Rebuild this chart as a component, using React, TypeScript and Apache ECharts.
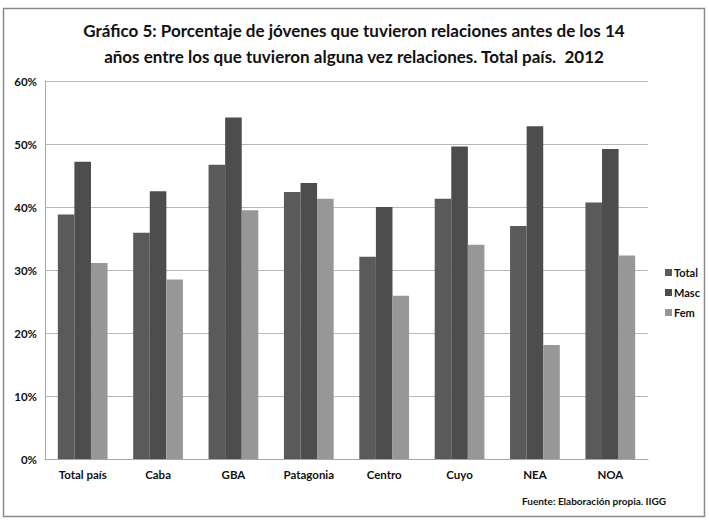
import React, { useEffect, useRef } from 'react'
import * as echarts from 'echarts'

const categories = ['Total país', 'Caba', 'GBA', 'Patagonia', 'Centro', 'Cuyo', 'NEA', 'NOA']
const totalValues = [38.8, 35.9, 46.7, 42.4, 32.1, 41.3, 37.0, 40.7]
const mascValues = [47.2, 42.5, 54.2, 43.8, 40.0, 49.6, 52.8, 49.2]
const femValues = [31.1, 28.5, 39.5, 41.3, 25.9, 34.0, 18.1, 32.3]
const seriesNames = ['Total', 'Masc', 'Fem']
const titleLines = [
  'Gráfico 5: Porcentaje de jóvenes que tuvieron relaciones antes de los 14',
  'años entre los que tuvieron alguna vez relaciones. Total país.  2012',
]
const sourceText = 'Fuente: Elaboración propia. IIGG'

const font = 'Lato, Open Sans, sans-serif'

const App: React.FC = () => {
  const chartRef = useRef<HTMLDivElement>(null)

  useEffect(() => {
    if (!chartRef.current) return
    document.body.style.margin = '0'
    const chart = echarts.init(chartRef.current, undefined, { renderer: 'svg' })

    const colors = ['#5a5a5a', '#4d4d4d', '#979797']
    const values = [totalValues, mascValues, femValues]

    const option = {
      animation: false,
      backgroundColor: '#ffffff',
      textStyle: { fontFamily: font },
      graphic: [
        {
          type: 'rect',
          shape: { x: 3.5, y: 8.5, width: 701, height: 508 },
          style: { fill: 'none', stroke: '#8a8a8a', lineWidth: 1.5 },
          z: -1,
        },
        {
          type: 'text',
          x: 354,
          y: 17,
          style: {
            text: titleLines.join('\n'),
            fontFamily: font,
            fontSize: 17,
            fontWeight: 'bold',
            fill: '#111',
            align: 'center',
            lineHeight: 26,
          },
        },
        {
          type: 'text',
          x: 522,
          y: 496,
          style: {
            text: sourceText,
            fontFamily: font,
            fontSize: 10,
            fontWeight: 'bold',
            fill: '#111',
          },
        },
      ],
      legend: {
        orient: 'vertical',
        left: 660,
        top: 262,
        itemWidth: 7,
        itemHeight: 7,
        itemGap: 9,
        icon: 'rect',
        data: seriesNames,
        textStyle: { fontFamily: font, fontSize: 11, fontWeight: 'bold', color: '#111', padding: [0, 0, 0, -3] },
      },
      grid: { left: 45, right: 61, top: 81, bottom: 68 },
      xAxis: {
        type: 'category',
        data: categories,
        axisLine: { lineStyle: { color: '#a8a8a8' } },
        axisTick: { show: false },
        axisLabel: { color: '#111', fontWeight: 'bold', fontSize: 11.5, margin: 9, fontFamily: font },
      },
      yAxis: {
        type: 'value',
        min: 0,
        max: 60,
        interval: 10,
        axisLine: { show: true, lineStyle: { color: '#a8a8a8' } },
        axisTick: { show: false },
        axisLabel: { color: '#111', fontWeight: 'bold', fontSize: 11.5, margin: 8, formatter: '{value}%', fontFamily: font },
        splitLine: { lineStyle: { color: '#b8b8b8', width: 1.2 } },
      },
      series: seriesNames.map((name, i) => ({
        name,
        type: 'bar',
        data: values[i],
        barGap: '0%',
        barCategoryGap: '34%',
        itemStyle: { color: colors[i] },
      })),
    }

    chart.setOption(option)
    return () => {
      chart.dispose()
    }
  }, [])

  return <div ref={chartRef} style={{ width: 709, height: 527 }} />
}

export default App
